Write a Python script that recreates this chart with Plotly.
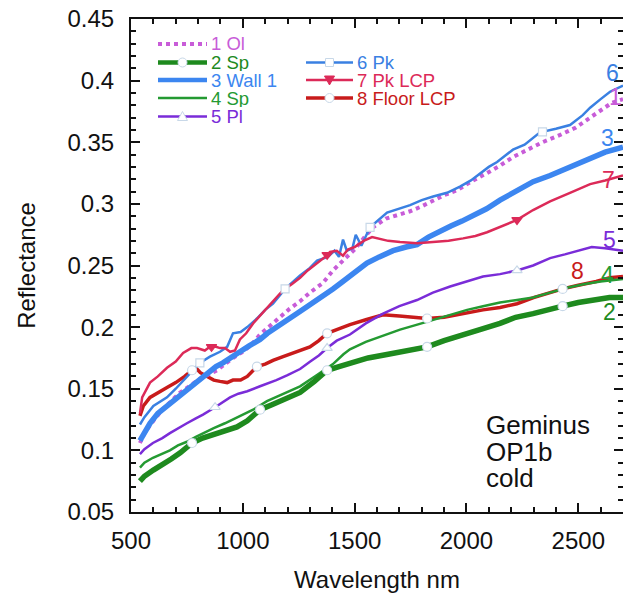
import numpy as np
import plotly.graph_objects as go

# ---------------- data ----------------
names = ["1 Ol", "2 Sp", "3 Wall 1", "4 Sp", "5 Pl", "6 Pk", "7 Pk LCP", "8 Floor LCP"]

x1 = [540, 560, 600, 640, 680, 720, 760, 800, 840, 885, 920, 956, 1000, 1040, 1077, 1120, 1166, 1210, 1256, 1300,
      1359, 1403, 1448, 1500, 1540, 1582, 1640, 1700, 1748, 1800, 1851, 1900, 1958, 2020, 2092, 2150, 2208, 2271,
      2340, 2419, 2490, 2553, 2600, 2650, 2700]
y1 = [0.106, 0.114, 0.124, 0.133, 0.140, 0.147, 0.152, 0.157, 0.161, 0.165, 0.170, 0.175, 0.180, 0.186, 0.194,
      0.201, 0.208, 0.215, 0.221, 0.228, 0.236, 0.246, 0.254, 0.263, 0.272, 0.281, 0.288, 0.291, 0.294, 0.298,
      0.303, 0.307, 0.311, 0.318, 0.325, 0.331, 0.338, 0.344, 0.350, 0.356, 0.362, 0.370, 0.376, 0.382, 0.385]

x2 = [540, 560, 600, 640, 680, 720, 773, 820, 870, 920, 974, 1020, 1077, 1130, 1180, 1256, 1320, 1377, 1430, 1479,
      1560, 1650, 1740, 1824, 1900, 1980, 2060, 2150, 2220, 2298, 2374, 2430, 2500, 2580, 2640, 2700]
y2 = [0.075, 0.079, 0.084, 0.088, 0.093, 0.098, 0.106, 0.110, 0.113, 0.115, 0.119, 0.124, 0.133, 0.137, 0.141,
      0.147, 0.156, 0.165, 0.168, 0.171, 0.175, 0.178, 0.181, 0.184, 0.189, 0.193, 0.198, 0.203, 0.208, 0.211,
      0.215, 0.217, 0.220, 0.222, 0.224, 0.224]

x3 = [540, 560, 585, 620, 661, 700, 750, 800, 840, 880, 911, 950, 987, 1030, 1077, 1110, 1153, 1200, 1242, 1290,
      1332, 1370, 1403, 1440, 1479, 1520, 1555, 1610, 1672, 1730, 1779, 1830, 1882, 1930, 1980, 2030, 2090, 2150,
      2226, 2298, 2374, 2440, 2508, 2560, 2620, 2700]
y3 = [0.108, 0.115, 0.122, 0.130, 0.136, 0.143, 0.150, 0.157, 0.163, 0.168, 0.171, 0.175, 0.180, 0.185, 0.190,
      0.195, 0.200, 0.205, 0.211, 0.217, 0.222, 0.226, 0.231, 0.236, 0.241, 0.247, 0.252, 0.257, 0.262, 0.265,
      0.267, 0.273, 0.278, 0.282, 0.286, 0.290, 0.296, 0.303, 0.311, 0.318, 0.323, 0.328, 0.333, 0.337, 0.342,
      0.346]

x4 = [540, 560, 598, 640, 674, 710, 750, 790, 822, 870, 920, 974, 1010, 1046, 1108, 1180, 1256, 1330, 1403, 1450,
      1479, 1550, 1630, 1703, 1780, 1851, 1930, 2003, 2074, 2150, 2226, 2298, 2374, 2450, 2530, 2600, 2700]
y4 = [0.086, 0.090, 0.094, 0.097, 0.100, 0.104, 0.107, 0.111, 0.114, 0.118, 0.122, 0.127, 0.130, 0.133, 0.140,
      0.146, 0.152, 0.161, 0.170, 0.178, 0.182, 0.188, 0.193, 0.198, 0.202, 0.206, 0.210, 0.214, 0.217, 0.220,
      0.222, 0.224, 0.228, 0.232, 0.235, 0.237, 0.239]

x5 = [540, 560, 598, 640, 674, 710, 750, 790, 822, 876, 910, 943, 980, 1020, 1077, 1108, 1150, 1200, 1256, 1300,
      1340, 1377, 1420, 1479, 1550, 1627, 1700, 1779, 1850, 1927, 2000, 2074, 2150, 2226, 2298, 2374, 2440, 2500,
      2560, 2620, 2700]
y5 = [0.097, 0.101, 0.106, 0.110, 0.114, 0.118, 0.122, 0.126, 0.129, 0.135, 0.139, 0.143, 0.146, 0.148, 0.152,
      0.154, 0.157, 0.161, 0.166, 0.172, 0.177, 0.183, 0.189, 0.194, 0.203, 0.211, 0.217, 0.222, 0.228, 0.233,
      0.237, 0.241, 0.243, 0.246, 0.250, 0.256, 0.259, 0.262, 0.265, 0.264, 0.262]

x6 = [540, 560, 600, 661, 700, 750, 808, 853, 898, 930, 956, 990, 1020, 1063, 1100, 1135, 1189, 1256, 1300, 1332,
      1380, 1410, 1430, 1448, 1465, 1490, 1505, 1530, 1569, 1645, 1700, 1748, 1800, 1851, 1913, 1971, 2020, 2061,
      2100, 2137, 2208, 2260, 2329, 2400, 2463, 2520, 2553, 2600, 2642, 2700]
y6 = [0.121, 0.127, 0.136, 0.143, 0.150, 0.160, 0.171, 0.176, 0.180, 0.184, 0.195, 0.196, 0.200, 0.207, 0.214,
      0.219, 0.231, 0.242, 0.248, 0.254, 0.257, 0.262, 0.257, 0.271, 0.262, 0.264, 0.275, 0.266, 0.281, 0.293,
      0.296, 0.299, 0.303, 0.306, 0.309, 0.314, 0.319, 0.325, 0.330, 0.334, 0.344, 0.348, 0.358, 0.361, 0.364,
      0.372, 0.378, 0.385, 0.391, 0.396]

x7 = [540, 550, 585, 620, 661, 700, 733, 770, 795, 830, 853, 880, 898, 920, 943, 965, 987, 1015, 1046, 1075, 1108,
      1140, 1180, 1220, 1256, 1290, 1332, 1368, 1390, 1420, 1448, 1470, 1500, 1540, 1578, 1600, 1650, 1703, 1780,
      1850, 1920, 1985, 2040, 2092, 2160, 2226, 2298, 2374, 2463, 2553, 2620, 2700]
y7 = [0.130, 0.143, 0.155, 0.160, 0.167, 0.172, 0.179, 0.183, 0.183, 0.181, 0.184, 0.184, 0.183, 0.183, 0.180,
      0.181, 0.190, 0.195, 0.203, 0.209, 0.216, 0.222, 0.230, 0.235, 0.240, 0.246, 0.252, 0.257, 0.261, 0.262,
      0.258, 0.263, 0.265, 0.270, 0.273, 0.272, 0.270, 0.269, 0.268, 0.269, 0.270, 0.272, 0.274, 0.277, 0.282,
      0.287, 0.295, 0.302, 0.309, 0.316, 0.319, 0.323]

x8 = [540, 555, 585, 620, 661, 700, 740, 773, 790, 810, 840, 870, 898, 930, 956, 990, 1020, 1063, 1100, 1135, 1180,
      1225, 1260, 1300, 1340, 1377, 1420, 1479, 1550, 1627, 1700, 1760, 1824, 1900, 1980, 2074, 2150, 2226, 2300,
      2374, 2430, 2500, 2580, 2640, 2700]
y8 = [0.128, 0.136, 0.143, 0.147, 0.151, 0.155, 0.160, 0.165, 0.167, 0.163, 0.160, 0.157, 0.156, 0.155, 0.157,
      0.157, 0.160, 0.168, 0.170, 0.173, 0.176, 0.179, 0.181, 0.184, 0.189, 0.195, 0.198, 0.202, 0.206, 0.210,
      0.209, 0.208, 0.207, 0.208, 0.211, 0.214, 0.216, 0.219, 0.224, 0.228, 0.231, 0.234, 0.237, 0.240, 0.241]

# wavelengths where the symbols sit on each curve
mark_x = {
    2: [773, 1077, 1377, 1824, 2430],
    5: [876, 1377, 2226],
    6: [808, 1189, 1569, 2340],
    7: [860, 1377, 2226],
    8: [773, 1063, 1377, 1824, 2430],
}

sample_text = ["Geminus", "OP1b", "cold"]

xs = [x1, x2, x3, x4, x5, x6, x7, x8]
ys = [y1, y2, y3, y4, y5, y6, y7, y8]

colors = ["#C85CD8", "#1E8A1E", "#3C86F0", "#249A32", "#7A2CD8", "#3A80E2", "#DC2A58", "#C81B1B"]
widths = [4, 5.5, 5.5, 2.5, 2.5, 2.5, 2.5, 3.5]
dashes = ["dot", "solid", "solid", "solid", "solid", "solid", "solid", "solid"]
symbols = {2: "circle", 5: "triangle-up", 6: "square", 7: "triangle-down", 8: "circle"}

XR = [500, 2700]
YR = [0.05, 0.45]

# layout geometry (pixels)
W, H = 623, 600
ML, MR, MT, MB = 131, 0, 19, 88
PW, PH = W - ML - MR, H - MT - MB

def px(xp):
    return (xp - ML) / PW

def py(yp):
    return (H - MB - yp) / PH

FONT = "Liberation Sans, Arial, Helvetica, sans-serif"

fig = go.Figure()

draw_order = [7, 0, 5, 2, 4, 3, 1, 6]
for i in draw_order:
    fig.add_trace(go.Scatter(
        x=xs[i], y=ys[i], mode="lines", name=names[i],
        line=dict(color=colors[i], width=widths[i], dash=dashes[i]),
        showlegend=False,
    ))

for k, mx in mark_x.items():
    i = k - 1
    my = np.interp(mx, xs[i], ys[i])
    filled = symbols[k] == "triangle-down"
    fig.add_trace(go.Scatter(
        x=mx, y=my, mode="markers", showlegend=False, hoverinfo="skip",
        marker=dict(symbol=symbols[k], size=9 if k != 6 else 8,
                    color=colors[i] if filled else "white",
                    line=dict(color=colors[i] if filled else "#c8d8e8", width=1.2)),
    ))

# ---- end-of-curve labels ----
end_labels = [
    ("6", 5, 2655, 18, 0), ("1", 0, 2665, 5, 0), ("3", 2, 2630, 14, 0), ("7", 6, 2635, 0, 0),
    ("5", 4, 2640, 9, 0), ("8", 7, 2495, 15, 0), ("4", 3, 2630, 6, 0), ("2", 1, 2640, -14, 0),
]
for txt, i, lx, ysh, xsh in end_labels:
    fig.add_annotation(x=lx, y=float(np.interp(lx, xs[i], ys[i])), text=txt, showarrow=False,
                       yshift=ysh, xshift=xsh, height=19,
                       font=dict(family=FONT, size=23, color=colors[i]))

# ---- legend (drawn as layout decorations) ----
leg_rows = [
    (0, 158, 207, 44), (1, 158, 207, 62.5), (2, 158, 207, 80), (3, 158, 207, 98), (4, 158, 207, 116.5),
    (5, 306, 353, 62.5), (6, 306, 353, 80), (7, 306, 353, 98),
]
for i, x0, x1p, yy in leg_rows:
    fig.add_shape(type="line", xref="paper", yref="paper", x0=px(x0), x1=px(x1p), y0=py(yy), y1=py(yy),
                  line=dict(color=colors[i], width=min(widths[i], 4.5), dash=dashes[i]))
    k = i + 1
    if k in symbols:
        cx = (x0 + x1p) / 2
        r = 4.5
        sym = symbols[k]
        filled = sym == "triangle-down"
        lc = colors[i] if filled else "#c8d8e8"
        fc = colors[i] if filled else "white"
        if sym == "circle":
            fig.add_shape(type="circle", xref="paper", yref="paper", x0=px(cx - r), x1=px(cx + r),
                          y0=py(yy + r), y1=py(yy - r), fillcolor=fc, line=dict(color=lc, width=1))
        elif sym == "square":
            fig.add_shape(type="rect", xref="paper", yref="paper", x0=px(cx - 4), x1=px(cx + 4),
                          y0=py(yy + 4), y1=py(yy - 4), fillcolor=fc, line=dict(color=lc, width=1))
        else:
            d = 1 if sym == "triangle-up" else -1
            pts = [(cx, yy - d * 5), (cx - 5, yy + d * 4), (cx + 5, yy + d * 4)]
            path = "M " + " L ".join(f"{px(a):.5f},{py(b):.5f}" for a, b in pts) + " Z"
            fig.add_shape(type="path", xref="paper", yref="paper", path=path, fillcolor=fc,
                          line=dict(color=lc, width=1))
    fig.add_annotation(xref="paper", yref="paper", x=px(x1p + 2), y=py(yy), xanchor="left", yanchor="middle",
                       text=names[i], showarrow=False, height=17,
                       font=dict(family=FONT, size=18.5, color=colors[i]))

# ---- sample label ----
for j, t in enumerate(sample_text):
    fig.add_annotation(xref="paper", yref="paper", x=px(484), y=py(425 + j * 26.7), xanchor="left",
                       yanchor="middle", text=t, showarrow=False, height=26,
                       font=dict(family=FONT, size=26, color="#111"))

axis_common = dict(
    showline=True, linecolor="#111", linewidth=2, mirror="allticks", ticks="inside", ticklen=9, tickwidth=1.5,
    tickcolor="#111", showgrid=False, zeroline=False, tickfont=dict(family=FONT, size=24, color="#111"),
)
fig.update_xaxes(range=XR, tick0=500, dtick=500, minor=dict(dtick=100, ticks="inside", ticklen=5, tickwidth=1.5,
                 tickcolor="#111"), ticklabelstandoff=6,
                 title=dict(text="Wavelength nm", font=dict(family=FONT, size=24, color="#111"), standoff=18),
                 **axis_common)
fig.update_yaxes(range=YR, tick0=0.05, dtick=0.05, tickformat="~g",
                 minor=dict(dtick=0.01, ticks="inside", ticklen=5, tickwidth=1.5, tickcolor="#111"),
                 ticklabelstandoff=10,
                 title=dict(text="Reflectance", font=dict(family=FONT, size=24, color="#111"), standoff=25),
                 **axis_common)

fig.update_layout(
    width=W, height=H, margin=dict(l=ML, r=MR, t=MT, b=MB, autoexpand=False),
    paper_bgcolor="white", plot_bgcolor="white", showlegend=False,
    font=dict(family=FONT, color="#111"),
)

fig.write_html("out.html", config={"displayModeBar": False},
               post_script="document.body.style.margin='0px';document.body.style.overflow='hidden';")
